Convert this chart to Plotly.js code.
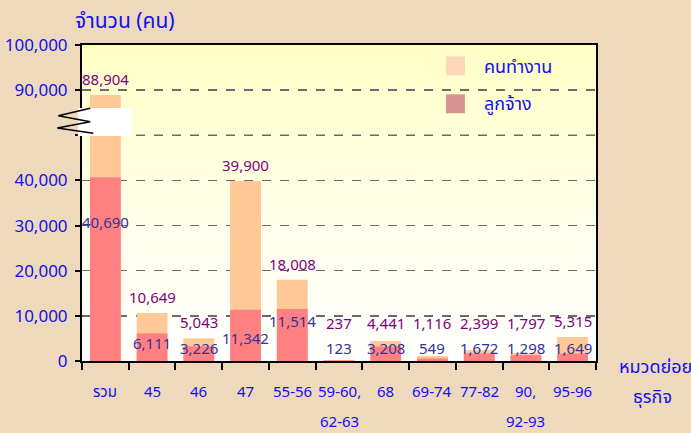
<!DOCTYPE html>
<html>
<head>
<meta charset="utf-8">
<script src="https://cdn.plot.ly/plotly-3.0.1.min.js"></script>
<style>html,body{margin:0;padding:0;background:#EED9BD;}#chart{width:691px;height:433px;}</style>
</head>
<body>
<div id="chart"></div>
<script>
// ---- data ----
const categories = ['รวม', '45', '46', '47', '55-56', '59-60,<br>62-63', '68', '69-74', '77-82', '90,<br>92-93', '95-96'];
const workers   = [88904, 10649, 5043, 39900, 18008, 237, 4441, 1116, 2399, 1797, 5315];   // คนทำงาน
const employees = [40690, 6111, 3226, 11342, 11514, 123, 3208, 549, 1672, 1298, 1649];    // ลูกจ้าง
const yTickValues = [0, 10000, 20000, 30000, 40000, 90000, 100000];
const seriesNames = ['คนทำงาน', 'ลูกจ้าง'];

// ---- broken axis mapping (values between 50,000 and 80,000 are cut out) ----
const BREAK_LO = 50000, BREAK_HI = 80000;
const toAxis = v => (v >= BREAK_HI ? v - (BREAK_HI - BREAK_LO) : v);
const fmt = v => v.toLocaleString('en-US');

const FONT = "Tahoma, 'Noto Sans Thai', 'Noto Sans', 'Liberation Sans', sans-serif";
const BLUE = '#1010F0';

// gradient background for plot area
const cv = document.createElement('canvas');
cv.width = 10; cv.height = 200;
const ctx = cv.getContext('2d');
const g = ctx.createLinearGradient(0, 0, 0, 200);
g.addColorStop(0, '#FFFFC6');
g.addColorStop(0.55, '#FFFFEA');
g.addColorStop(1, '#FFFFFF');
ctx.fillStyle = g; ctx.fillRect(0, 0, 10, 200);
const gradURL = cv.toDataURL();

const idx = categories.map((c, i) => i);
const YMAX = toAxis(100000);
const PLOT_H = 433 - 45 - 72;

const traces = [
  {type: 'bar', x: idx, y: workers.map(toAxis), name: seriesNames[0],
   marker: {color: '#FFC897'}, showlegend: false, hoverinfo: 'skip'},
  {type: 'bar', x: idx, y: employees.map(toAxis), name: seriesNames[1],
   marker: {color: '#FF8080'}, showlegend: false, hoverinfo: 'skip'}
];

const annotations = [];
// value labels
const empLabelY = employees.map(ev => Math.max(ev * (ev < 10000 ? 0.6 : 0.75), 2600));
const empShift = empLabelY.map(() => 0);
for (let i = 0; i + 1 < empLabelY.length; i++) {
  const dpx = Math.abs(empLabelY[i] - empLabelY[i + 1]) / YMAX * PLOT_H;
  if (dpx < 14 && employees[i] >= 10000 && employees[i + 1] >= 10000) empShift[i] = -17;
}
idx.forEach(i => {
  annotations.push({x: i, y: Math.max(toAxis(workers[i]), 4800), xref: 'x', yref: 'y',
    text: fmt(workers[i]), showarrow: false, yanchor: 'bottom', yshift: 1,
    font: {family: FONT, size: 15, color: '#800080'}});
  annotations.push({x: i, y: empLabelY[i], xref: 'x', yref: 'y', yshift: empShift[i],
    text: fmt(employees[i]), showarrow: false, yanchor: 'middle',
    font: {family: FONT, size: 15, color: '#333399'}});
});
// category labels (two-line ones with wide line spacing)
idx.forEach(i => {
  categories[i].split('<br>').forEach((line, k) => {
    annotations.push({x: i, y: -0.101 - 0.095 * k, xref: 'x', yref: 'paper', yanchor: 'middle',
      text: line, showarrow: false, font: {family: FONT, size: 15, color: BLUE}});
  });
});
// axis titles
annotations.push({x: -0.018, y: 1.073, xref: 'paper', yref: 'paper', xanchor: 'left', yanchor: 'middle',
  text: 'จำนวน (คน)', showarrow: false, font: {family: FONT, size: 21, color: BLUE}});
annotations.push({x: 1.04, y: -0.022, xref: 'paper', yref: 'paper', xanchor: 'left', yanchor: 'middle',
  text: 'หมวดย่อย', showarrow: false, font: {family: FONT, size: 18, color: BLUE}});
annotations.push({x: 1.11, y: -0.117, xref: 'paper', yref: 'paper', xanchor: 'center', yanchor: 'middle',
  text: 'ธุรกิจ', showarrow: false, font: {family: FONT, size: 18, color: BLUE}});
// legend labels
annotations.push({x: 0.778, y: 0.93, xref: 'paper', yref: 'paper', xanchor: 'left', yanchor: 'middle',
  text: seriesNames[0], showarrow: false, font: {family: FONT, size: 18, color: BLUE}});
annotations.push({x: 0.778, y: 0.813, xref: 'paper', yref: 'paper', xanchor: 'left', yanchor: 'middle',
  text: seriesNames[1], showarrow: false, font: {family: FONT, size: 18, color: BLUE}});

const shapes = [
  {type: 'line', xref: 'paper', yref: 'y', x0: 0, x1: 1, y0: BREAK_LO, y1: BREAK_LO,
   line: {color: '#6A6A6A', width: 1.5, dash: 'dash'}, layer: 'below'},
  {type: 'rect', xref: 'paper', yref: 'paper', x0: 0.708, x1: 0.745, y0: 0.904, y1: 0.964,
   fillcolor: '#FDD6BC', line: {width: 0}},
  {type: 'rect', xref: 'paper', yref: 'paper', x0: 0.708, x1: 0.745, y0: 0.784, y1: 0.844,
   fillcolor: '#D99594', line: {width: 0}},
  {type: 'rect', xref: 'paper', yref: 'paper', x0: -0.008, x1: 0.097, y0: 0.712, y1: 0.801,
   fillcolor: '#FFFFFF', line: {width: 0}},
  {type: 'path', xref: 'paper', yref: 'paper',
   path: 'M 0.016 0.800 L -0.046 0.776 L 0.016 0.757 L -0.048 0.737 L 0.022 0.721',
   line: {color: '#000000', width: 1.5}}
];

const layout = {
  width: 691, height: 433,
  margin: {l: 82, r: 95, t: 45, b: 72},
  paper_bgcolor: '#EED9BD',
  plot_bgcolor: 'rgba(0,0,0,0)',
  barmode: 'overlay',
  bargap: 0.34,
  showlegend: false,
  font: {family: FONT, color: BLUE},
  images: [{source: gradURL, xref: 'paper', yref: 'paper', x: 0, y: 1, sizex: 1, sizey: 1,
            sizing: 'stretch', layer: 'below'}],
  xaxis: {
    type: 'linear', range: [-0.5, categories.length - 0.5],
    tickmode: 'array', tickvals: idx.concat([categories.length]).map(i => i - 0.5),
    showticklabels: false, ticks: 'outside', ticklen: 7, tickwidth: 2, tickcolor: '#000',
    showline: true, linecolor: '#000', linewidth: 2, mirror: true, showgrid: false, zeroline: false
  },
  yaxis: {
    range: [0, YMAX],
    tickmode: 'array',
    tickvals: yTickValues.map(toAxis).concat([BREAK_LO]),
    ticktext: yTickValues.map(fmt).concat(['']),
    ticks: 'outside', ticklen: 5, tickwidth: 2, tickcolor: '#000', ticklabelstandoff: 4,
    showline: true, linecolor: '#000', linewidth: 2, mirror: true,
    showgrid: true, gridcolor: '#6A6A6A', gridwidth: 1.5, griddash: 'dash', zeroline: false,
    tickfont: {family: FONT, size: 17, color: BLUE}
  },
  annotations: annotations,
  shapes: shapes
};

Plotly.newPlot('chart', traces, layout, {displayModeBar: false, staticPlot: true});
</script>
</body>
</html>
